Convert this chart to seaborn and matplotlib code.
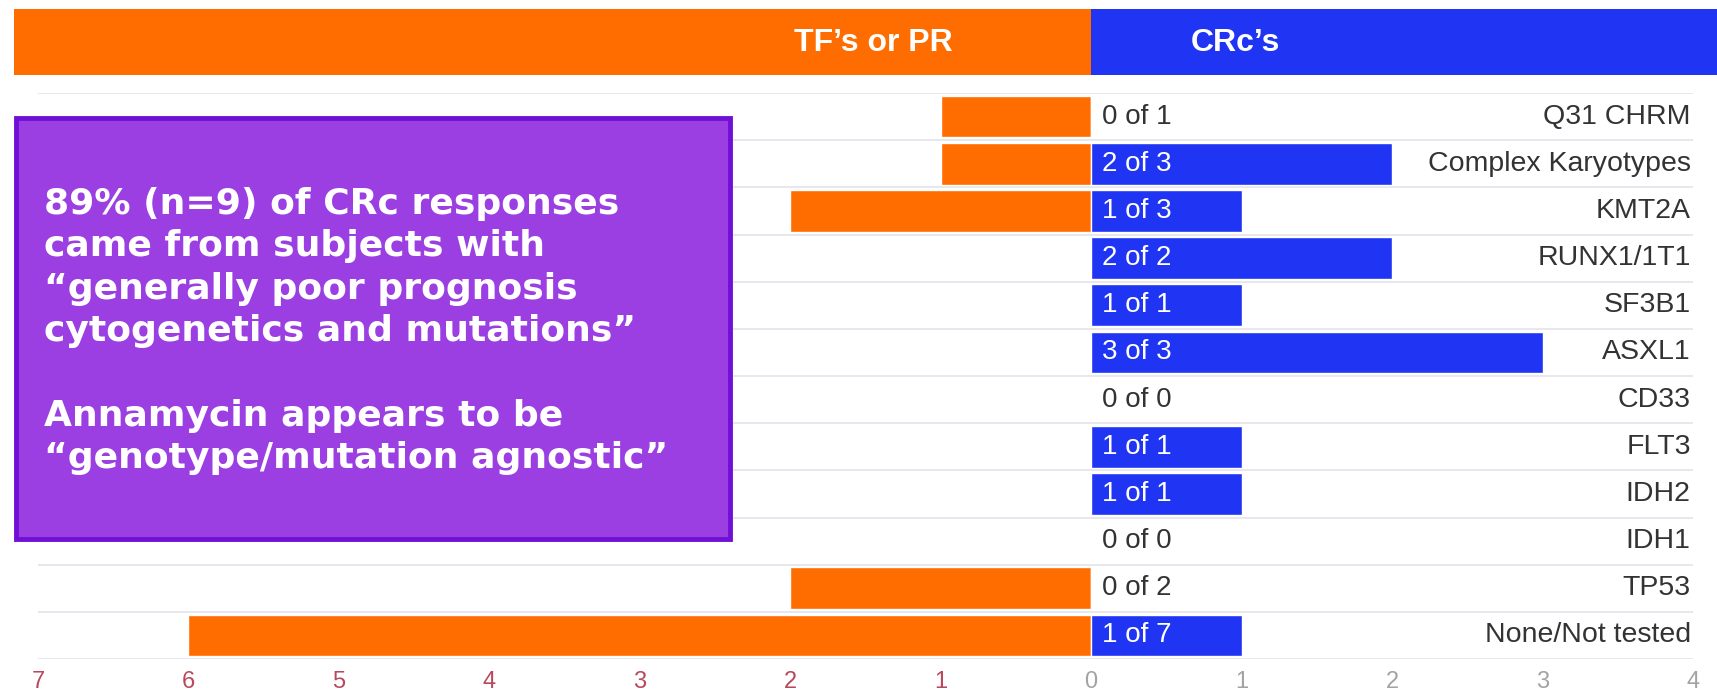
import numpy as np
import pandas as pd
import matplotlib
matplotlib.use("Agg")
import matplotlib.pyplot as plt
from matplotlib import font_manager
from matplotlib.patches import Rectangle
from matplotlib.transforms import blended_transform_factory
import seaborn as sns

# ---- data -------------------------------------------------------------
categories = ["Q31 CHRM", "Complex Karyotypes", "KMT2A", "RUNX1/1T1", "SF3B1",
              "ASXL1", "CD33", "FLT3", "IDH2", "IDH1", "TP53", "None/Not tested"]
tf_or_pr = [1, 1, 2, 0, 0, 0, 0, 0, 0, 0, 2, 6]     # treatment failure / partial response
crc = [0, 2, 1, 2, 1, 3, 0, 1, 1, 0, 0, 1]          # composite complete remission
totals = [1, 3, 3, 2, 1, 3, 0, 1, 1, 0, 2, 7]
tick_values = [-7, -6, -5, -4, -3, -2, -1, 0, 1, 2, 3, 4]
tick_labels = ["7", "6", "5", "4", "3", "2", "1", "0", "1", "2", "3", "4"]

header_left = "TF\u2019s or PR"
header_right = "CRc\u2019s"
note_text = ("89% (n=9) of CRc responses\n"
             "came from subjects with\n"
             "\u201cgenerally poor prognosis\n"
             "cytogenetics and mutations\u201d\n"
             "\n"
             "Annamycin appears to be\n"
             "\u201cgenotype/mutation agnostic\u201d")

ORANGE = "#ff6c00"
BLUE = "#1f35f3"
PURPLE = "#9b3fe3"
PURPLE_EDGE = "#7010d6"
NEG_TICK = "#b9485c"
POS_TICK = "#a3a3a3"

df = pd.DataFrame({"category": categories,
                   "left": [-v for v in tf_or_pr],
                   "right": crc})

sns.set_theme(style="white")
plt.rcParams["font.family"] = ["Liberation Sans", "DejaVu Sans"]

available = {f.name for f in font_manager.fontManager.ttflist}
narrow = "Liberation Sans Narrow" if "Liberation Sans Narrow" in available else None

W, H = 1717, 700
fig = plt.figure(figsize=(W / 100, H / 100), dpi=100)
fig.patch.set_facecolor("white")

ax_left, ax_right, ax_top, ax_bottom = 38, 1693, 93, 659
ax = fig.add_axes([ax_left / W, 1 - ax_bottom / H,
                   (ax_right - ax_left) / W, (ax_bottom - ax_top) / H])

sns.barplot(data=df, x="left", y="category", order=categories, color=ORANGE,
            width=0.88, saturation=1, orient="h", ax=ax, zorder=3)
sns.barplot(data=df, x="right", y="category", order=categories, color=BLUE,
            width=0.88, saturation=1, orient="h", ax=ax, zorder=3)

ax.set_xlim(-7, 4)
ax.set_ylim(len(categories) - 0.5, -0.5)
ax.set_xlabel("")
ax.set_ylabel("")
ax.set_yticks([])
for s in ax.spines.values():
    s.set_visible(False)

# row separators
for b in np.arange(-0.5, len(categories), 1.0):
    ax.axhline(b, color="#e5e5ec", lw=1.3, zorder=1)

ax.set_xticks(tick_values)
ax.set_xticklabels(tick_labels)
ax.tick_params(axis="x", length=0, pad=9, labelsize=17)
for lbl, v in zip(ax.get_xticklabels(), tick_values):
    lbl.set_color(NEG_TICK if v < 0 else POS_TICK)

# value labels and category names
for i, (cat, c, t) in enumerate(zip(categories, crc, totals)):
    ax.text(0.07, i, f"{c} of {t}", ha="left", va="center", fontsize=20,
            color="white" if c > 0 else "#333333", zorder=5)
    ax.text(3.985, i, cat, ha="right", va="center", fontsize=20.5,
            color="#333333", zorder=5)

# header band
trans = blended_transform_factory(ax.transData, fig.transFigure)
band_y0 = 1 - 75 / H
band_h = (75 - 9) / H
x_left_edge = ax.transData.inverted().transform((14, 0))[0]
ax.add_patch(Rectangle((x_left_edge, band_y0), 0 - x_left_edge, band_h,
                       transform=trans, facecolor=ORANGE, edgecolor="none",
                       clip_on=False, zorder=6))
ax.add_patch(Rectangle((0, band_y0), 5, band_h, transform=trans,
                       facecolor=BLUE, edgecolor="none", clip_on=False, zorder=6))
hdr_kw = dict(color="white", fontweight="bold", va="center", transform=trans,
              zorder=7, clip_on=False)
if narrow:
    hdr_kw.update(family=[narrow, "DejaVu Sans"], fontsize=27)
else:
    hdr_kw.update(fontsize=23)
ax.text(-0.92, 1 - 43 / H, header_left, ha="right", **hdr_kw)
ax.text(0.66, 1 - 43 / H, header_right, ha="left", **hdr_kw)

# annotation box
box = Rectangle((16 / W, 1 - 539 / H), (730 - 16) / W, (539 - 118) / H,
                transform=fig.transFigure, facecolor=PURPLE,
                edgecolor=PURPLE_EDGE, linewidth=3.5, zorder=10)
fig.patches.append(box)
fig.text(44 / W, 1 - 331 / H, note_text, ha="left", va="center",
         fontsize=26, fontweight="bold", color="white",
         family=["DejaVu Sans"], linespacing=1.31, zorder=11)

fig.savefig("out.png", dpi=100, facecolor="white")
